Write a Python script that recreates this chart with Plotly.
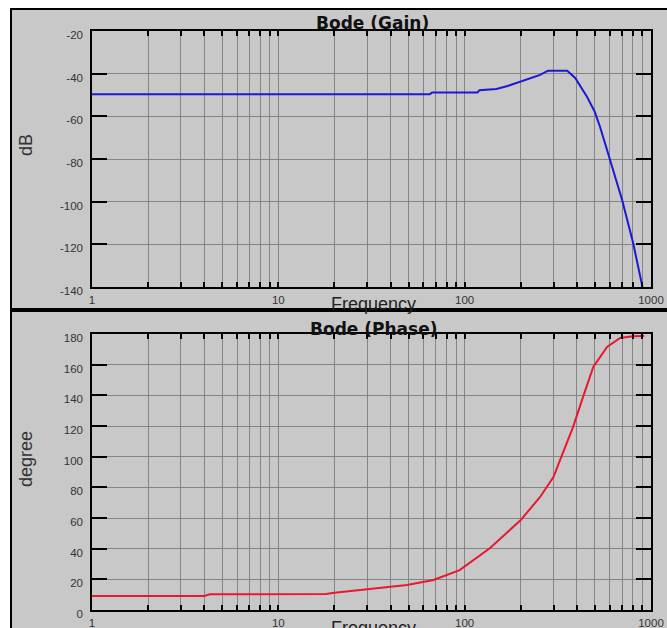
import plotly.graph_objects as go

# ---- data ----
gain_freq = [1, 65, 67, 117, 120, 148, 170, 194, 219, 254, 280, 355, 392, 416, 454, 500, 533, 581, 700, 802, 900]
gain_db = [-49.6, -49.6, -48.8, -48.8, -47.8, -47.2, -45.8, -44.2, -42.4, -40.6, -38.6, -38.6, -42.0, -45.8, -50.9, -58.0, -65.0, -75.8, -99.2, -119.4, -140.0]

phase_freq = [1, 4, 4.3, 10, 18, 20, 30, 49, 68, 94, 137, 200, 254, 300, 325, 382, 432, 490, 581, 683, 800, 920]
phase_deg = [9.1, 9.2, 10.2, 10.4, 10.4, 11.2, 13.5, 16.3, 19.6, 26.0, 40.4, 58.7, 73.7, 86.8, 97.8, 119.4, 139.0, 158.5, 171.6, 177.4, 178.6, 178.7]

grid_vals = [m * d for d in (1, 10, 100) for m in range(1, 10)] + [1000]
grid_text = [str(v) if v in (1, 10, 100, 1000) else "" for v in grid_vals]
gain_ticks = [-140, -120, -100, -80, -60, -40, -20]
gain_text = [str(v) for v in gain_ticks]
phase_ticks = [0, 20, 40, 60, 80, 100, 120, 140, 160, 180]
phase_text = [str(v) for v in phase_ticks]

W, H = 667, 628
BG = "#c8c8c8"
GRID = "#858585"

def px(x):
    return x / W

def py(y):
    return 1 - y / H

fig = go.Figure()
fig.add_trace(go.Scatter(x=gain_freq, y=gain_db, mode="lines",
                         line=dict(color="#1a1ad2", width=2), xaxis="x", yaxis="y", showlegend=False))
fig.add_trace(go.Scatter(x=phase_freq, y=phase_deg, mode="lines",
                         line=dict(color="#e8192c", width=2), xaxis="x2", yaxis="y2", showlegend=False))

tickfont = dict(family="Liberation Sans", size=11.5, color="#333")

xcommon = dict(type="log", range=[0, 3], tickmode="array", tickvals=grid_vals, ticktext=grid_text,
               showgrid=True, gridcolor=GRID, gridwidth=1, ticks="inside", ticklen=5, tickwidth=1.5,
               tickcolor="black", showline=True, linecolor="black", linewidth=1.5, mirror="ticks",
               tickfont=tickfont, ticklabelstandoff=1, zeroline=False, fixedrange=True, automargin=False)
ycommon = dict(showgrid=True, gridcolor=GRID, gridwidth=1, ticks="inside", ticklen=15, tickwidth=2,
               tickcolor="black", showline=True, linecolor="black", linewidth=1.5, mirror="ticks",
               tickfont=tickfont, ticklabelstandoff=5, ticklabelshift=4, zeroline=False, fixedrange=True,
               tickmode="array", automargin=False)

fig.update_layout(
    width=W, height=H, autosize=False,
    margin=dict(l=0, r=0, t=0, b=0, pad=0),
    paper_bgcolor="white", plot_bgcolor=BG,
    xaxis=dict(domain=[px(92), px(651)], anchor="y", **xcommon),
    yaxis=dict(domain=[py(287), py(31)], anchor="x", range=[-140, -20],
               tickvals=gain_ticks, ticktext=gain_text, **ycommon),
    xaxis2=dict(domain=[px(92), px(651)], anchor="y2", **xcommon),
    yaxis2=dict(domain=[py(610), py(334)], anchor="x2", range=[0, 180],
                tickvals=phase_ticks, ticktext=phase_text, **ycommon),
    shapes=[
        dict(type="rect", xref="paper", yref="paper", x0=px(11), x1=1, y0=0, y1=py(9),
             fillcolor=BG, line=dict(width=0), layer="below"),
        dict(type="line", xref="paper", yref="paper", x0=px(10), x1=1, y0=py(9), y1=py(9),
             line=dict(color="black", width=2), layer="above"),
        dict(type="line", xref="paper", yref="paper", x0=px(11), x1=px(11), y0=0, y1=py(9),
             line=dict(color="black", width=2), layer="above"),
        dict(type="rect", xref="paper", yref="paper", x0=px(10), x1=1, y0=py(312), y1=py(308),
             fillcolor="black", line=dict(width=0), layer="above"),
    ],
    annotations=[
        dict(text="<b>Bode (Gain)</b>", xref="paper", yref="paper", x=px(372), y=py(23),
             xanchor="center", yanchor="middle", showarrow=False,
             font=dict(family="DejaVu Sans", size=17, color="#111")),
        dict(text="<b>Bode (Phase)</b>", xref="paper", yref="paper", x=px(373), y=py(329),
             xanchor="center", yanchor="middle", showarrow=False,
             font=dict(family="DejaVu Sans", size=17, color="#111")),
        dict(text="Frequency", xref="paper", yref="paper", x=px(373), y=py(304),
             xanchor="center", yanchor="middle", showarrow=False,
             font=dict(family="Liberation Sans", size=18, color="#222")),
        dict(text="Frequency", xref="paper", yref="paper", x=px(373), y=py(628),
             xanchor="center", yanchor="middle", showarrow=False,
             font=dict(family="Liberation Sans", size=18, color="#222")),
        dict(text="dB", xref="paper", yref="paper", x=px(26), y=py(145), textangle=-90,
             xanchor="center", yanchor="middle", showarrow=False,
             font=dict(family="Liberation Sans", size=18, color="#333")),
        dict(text="degree", xref="paper", yref="paper", x=px(26), y=py(459), textangle=-90,
             xanchor="center", yanchor="middle", showarrow=False,
             font=dict(family="Liberation Sans", size=18, color="#333")),
    ],
)

fig.write_html("out.html", config={"displayModeBar": False},
               post_script="document.body.style.margin='0';"
                           "document.documentElement.style.overflow='hidden';")
